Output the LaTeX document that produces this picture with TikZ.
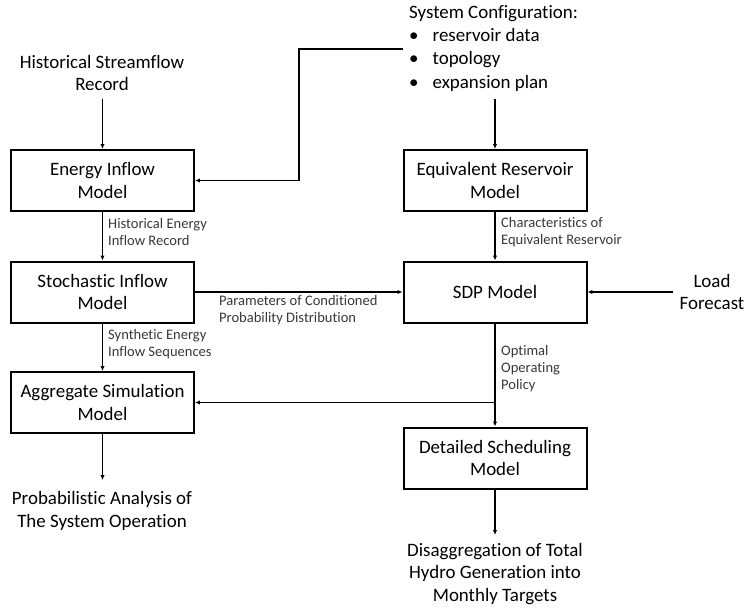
\documentclass[tikz,border=0pt]{standalone}
\usepackage{fontspec}
\setmainfont{Carlito}[Ligatures=NoCommon]
\usetikzlibrary{arrows.meta}

\begin{document}
\begin{tikzpicture}[x=1bp,y=-1bp,
  box/.style={draw,line width=2bp,minimum width=183bp,minimum height=61bp,align=center,font=\fontsize{19}{22.5}\selectfont},
  txt/.style={align=center,font=\fontsize{19}{22.5}\selectfont},
  lbl/.style={align=left,anchor=north west,inner sep=2bp,text=black!78,font=\fontsize{14.6}{17}\selectfont},
  conn/.style={line width=1.6bp,-{Latex[length=5pt,width=4.5pt]}}]
\useasboundingbox (0,0) rectangle (746,611);

% inputs
\node[txt] (hist) at (102,73) {Historical Streamflow\\Record};
\node[anchor=north west,inner sep=0pt,font=\fontsize{19}{23.3}\selectfont] (config) at (409,2)
  {\begin{tabular}{@{}l@{\hspace{14bp}}l@{}}
   \multicolumn{2}{@{}l}{System Configuration:}\\
   \textbullet & reservoir data\\
   \textbullet & topology\\
   \textbullet & expansion plan
   \end{tabular}};
\node[txt] (load) at (712,292) {Load\\Forecast};

% models
\node[box] (energy) at (102.5,180.5) {Energy Inflow\\Model};
\node[box] (stoch) at (102.5,292) {Stochastic Inflow\\Model};
\node[box] (aggr) at (102.5,402.5) {Aggregate Simulation\\Model};
\node[box] (equiv) at (495,180.5) {Equivalent Reservoir\\Model};
\node[box] (sdp) at (495,292) {SDP Model};
\node[box] (detail) at (495,458) {Detailed Scheduling\\Model};

% outputs
\node[txt] (prob) at (102,511) {Probabilistic Analysis of\\The System Operation};
\node[txt] (disagg) at (495,574) {Disaggregation of Total\\Hydro Generation into\\Monthly Targets};

% connectors
\coordinate (cfg) at (403,49);
\draw[conn] (energy.north |- 0,99) -- (energy.north);
\draw[conn] (equiv.north |- 0,99) -- (equiv.north);
\draw[conn] (cfg) -- ++(-104,0) |- (energy.east);
\draw[conn] (energy) -- (stoch);
\draw[conn] (stoch) -- (aggr);
\draw[conn] (equiv) -- (sdp);
\draw[conn] (stoch) -- (sdp);
\draw[conn] (sdp.east -| 673,0) -- (sdp.east);
\draw[conn] (sdp) -- (detail);
\draw[conn] (sdp.south |- aggr.east) -- (aggr.east);
\draw[conn] (aggr.south) -- (aggr.south |- 0,480);
\draw[conn] (detail.south) -- (detail.south |- 0,535);

% labels
\node[lbl] (l1) at (106,216) {Historical Energy\\Inflow Record};
\node[lbl] (l2) at (499,215) {Characteristics of\\Equivalent Reservoir};
\node[lbl] (l3) at (217,293) {Parameters of Conditioned\\Probability Distribution};
\node[lbl] (l4) at (106,327) {Synthetic Energy\\Inflow Sequences};
\node[lbl] (l5) at (499,343) {Optimal\\Operating\\Policy};
\end{tikzpicture}
\end{document}
